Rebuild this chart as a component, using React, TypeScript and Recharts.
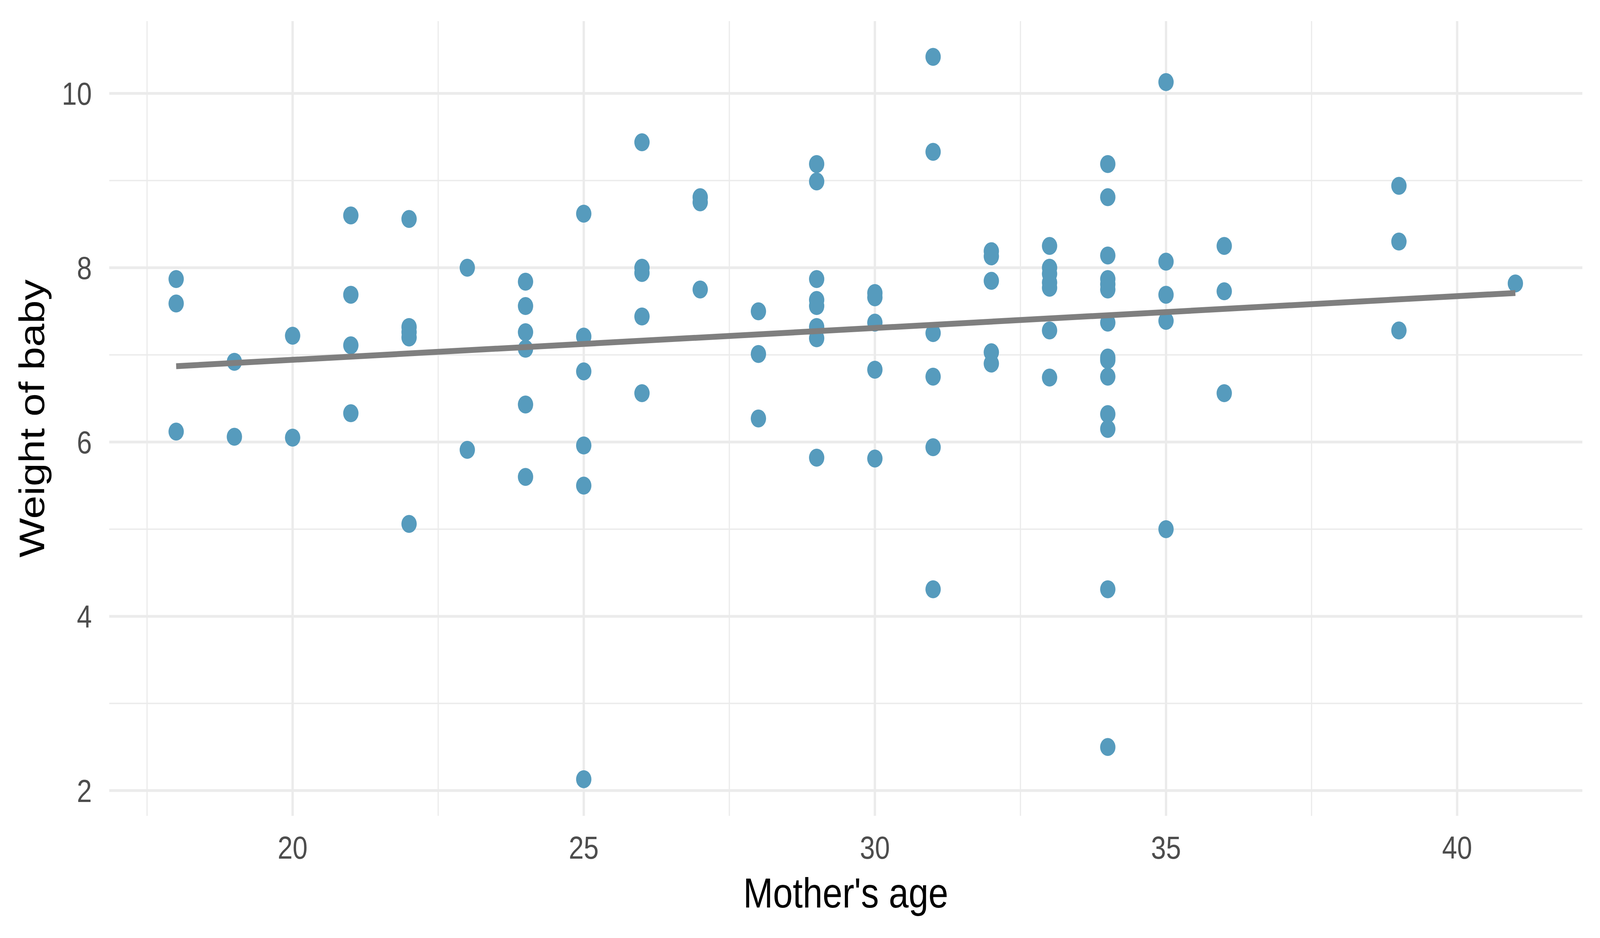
import { ScatterChart, Scatter, XAxis, YAxis, ReferenceLine } from 'recharts'

// mother's age / baby weight, one entry per birth
const momAge = [
  18, 18, 18,
  19, 19,
  20, 20,
  21, 21, 21, 21,
  22, 22, 22, 22, 22,
  23, 23,
  24, 24, 24, 24, 24, 24,
  25, 25, 25, 25, 25, 25,
  26, 26, 26, 26, 26,
  27, 27, 27,
  28, 28, 28,
  29, 29, 29, 29, 29, 29, 29, 29,
  30, 30, 30, 30, 30,
  31, 31, 31, 31, 31, 31,
  32, 32, 32, 32, 32,
  33, 33, 33, 33, 33, 33, 33,
  34, 34, 34, 34, 34, 34, 34, 34, 34, 34, 34, 34, 34, 34,
  35, 35, 35, 35, 35,
  36, 36, 36,
  39, 39, 39,
  41,
]

const babyWeight = [
  7.87, 7.59, 6.12,
  6.92, 6.06,
  7.22, 6.05,
  8.6, 7.69, 7.11, 6.33,
  8.56, 7.32, 7.26, 7.2, 5.06,
  8.0, 5.91,
  7.84, 7.56, 7.26, 7.07, 6.43, 5.6,
  8.62, 7.21, 6.81, 5.96, 5.5, 2.13,
  9.44, 8.0, 7.94, 7.44, 6.56,
  8.81, 8.75, 7.75,
  7.5, 7.01, 6.27,
  9.19, 8.99, 7.87, 7.63, 7.56, 7.32, 7.19, 5.82,
  7.71, 7.66, 7.37, 6.83, 5.81,
  10.42, 9.33, 7.25, 6.75, 5.94, 4.31,
  8.19, 8.13, 7.85, 7.03, 6.9,
  8.25, 8.0, 7.93, 7.83, 7.77, 7.28, 6.74,
  9.19, 8.81, 8.14, 7.87, 7.81, 7.75, 7.37, 6.97, 6.94, 6.75, 6.32, 6.15, 4.31, 2.5,
  10.13, 8.07, 7.69, 7.39, 5.0,
  8.25, 7.73, 6.56,
  8.94, 8.3, 7.28,
  7.82,
]

// least squares line end points
const fitAge = [18, 41]
const fitWeight = [6.87, 7.71]

const xTicks = [20, 25, 30, 35, 40]
const xMinor = [17.5, 22.5, 27.5, 32.5, 37.5]
const yTicks = [2, 4, 6, 8, 10]
const yMinor = [3, 5, 7, 9]

const births = momAge.map((age, i) => ({ age, weight: babyWeight[i] }))
const fit = fitAge.map((age, i) => ({ age, weight: fitWeight[i] }))

const FONT = '"Liberation Sans", Arial, sans-serif'
const GRID = '#EBEBEB'

// the browser window is clamped to 4096 wide, so squeeze the 4800 wide chart into it
const VIEW_W = 4096

function Dot(props: any) {
  return <circle cx={props.cx} cy={props.cy} r={23} fill="#569BBD" />
}

function NoDot() {
  return <g />
}

export default function App() {
  return (
    <div style={{ width: VIEW_W, height: 2400, overflow: 'hidden', background: '#fff' }}>
      <style>{'body{margin:0;overflow:hidden}'}</style>
      <div
        style={{
          width: 4800,
          height: 2400,
          transform: `scale(${VIEW_W / 4800}, 1)`,
          transformOrigin: '0 0',
        }}
      >
        <ScatterChart
          width={4800}
          height={2400}
          margin={{ top: 54, right: 53, left: 0, bottom: 0 }}
          style={{ fontFamily: FONT }}
        >
          <XAxis
            type="number"
            dataKey="age"
            domain={[16.85, 42.15]}
            allowDataOverflow
            ticks={xTicks}
            axisLine={false}
            tickLine={false}
            tickSize={0}
            tickMargin={52}
            height={312.5}
            tick={{ fill: '#4D4D4D', fontSize: 81, fontFamily: FONT }}
            label={{
              value: "Mother's age",
              position: 'insideBottom',
              offset: 78,
              fill: '#000',
              fontSize: 107,
              fontFamily: FONT,
            }}
          />
          <YAxis
            type="number"
            dataKey="weight"
            domain={[1.71, 10.83]}
            allowDataOverflow
            ticks={yTicks}
            axisLine={false}
            tickLine={false}
            tickSize={0}
            tickMargin={52}
            width={327.6}
            tick={{ fill: '#4D4D4D', fontSize: 81, fontFamily: FONT }}
            label={{
              value: 'Weight of baby',
              angle: -90,
              position: 'insideLeft',
              offset: 95,
              fill: '#000',
              fontSize: 107,
              fontFamily: FONT,
              style: { textAnchor: 'middle' },
            }}
          />
          {xMinor.map((v) => (
            <ReferenceLine key={'xm' + v} x={v} stroke={GRID} strokeWidth={3.5} />
          ))}
          {yMinor.map((v) => (
            <ReferenceLine key={'ym' + v} y={v} stroke={GRID} strokeWidth={3.5} />
          ))}
          {xTicks.map((v) => (
            <ReferenceLine key={'xM' + v} x={v} stroke={GRID} strokeWidth={7} />
          ))}
          {yTicks.map((v) => (
            <ReferenceLine key={'yM' + v} y={v} stroke={GRID} strokeWidth={7} />
          ))}
          <Scatter data={births} shape={Dot} isAnimationActive={false} />
          <Scatter
            data={fit}
            shape={NoDot}
            line={{ stroke: '#7F7F7F', strokeWidth: 15 }}
            isAnimationActive={false}
          />
        </ScatterChart>
      </div>
    </div>
  )
}
